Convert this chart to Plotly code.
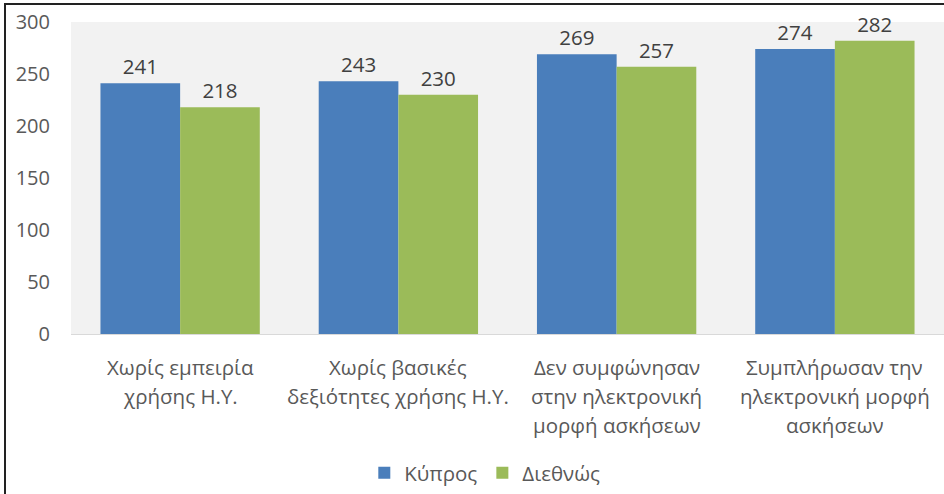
import plotly.graph_objects as go

categories = [
    "Χωρίς εμπειρία<br>χρήσης Η.Υ.",
    "Χωρίς βασικές<br>δεξιότητες χρήσης Η.Υ.",
    "Δεν συμφώνησαν<br>στην ηλεκτρονική<br>μορφή ασκήσεων",
    "Συμπλήρωσαν την<br>ηλεκτρονική μορφή<br>ασκήσεων",
]
cyprus = [241, 243, 269, 274]
international = [218, 230, 257, 282]
series_names = ["Κύπρος", "Διεθνώς"]
y_ticks = [0, 50, 100, 150, 200, 250, 300]

FONT = "Open Sans"
TXT = "#595959"

fig = go.Figure()
fig.add_trace(go.Bar(
    x=categories, y=cyprus, name=series_names[0],
    marker=dict(color="#4A7EBB", line=dict(width=0)),
    text=cyprus, textposition="outside", cliponaxis=False,
    textfont=dict(size=20.5, color="#404040", family=FONT),
))
fig.add_trace(go.Bar(
    x=categories, y=international, name=series_names[1],
    marker=dict(color="#9BBB59", line=dict(width=0)),
    text=international, textposition="outside", cliponaxis=False,
    textfont=dict(size=20.5, color="#404040", family=FONT),
))

fig.update_layout(
    width=944, height=494,
    margin=dict(l=71, r=0, t=22, b=160),
    barmode="group", bargap=0.27, bargroupgap=0,
    paper_bgcolor="white", plot_bgcolor="#f2f2f2",
    font=dict(family=FONT, color=TXT, size=19),
    showlegend=True,
    legend=dict(orientation="h", x=0.474, xanchor="center", y=-0.445, yanchor="middle",
                font=dict(size=20.5, color=TXT), itemwidth=30, traceorder="normal"),
)
fig.update_yaxes(range=[0, 300], tickvals=y_ticks, showgrid=False, zeroline=False,
                 showline=False, ticks="", tickfont=dict(size=20, color=TXT),
                 ticklabelstandoff=20)
fig.update_xaxes(showgrid=False, showline=True, linecolor="#d9d9d9", linewidth=1,
                 ticks="", showticklabels=False)

# category labels, one annotation per line for Office-like line spacing
plot_h = 312
for cat in categories:
    for i, line in enumerate(cat.split("<br>")):
        ypix = 367 + 29 * i
        fig.add_annotation(x=cat, xref="x", y=(334 - ypix) / plot_h, yref="paper",
                           text=line, showarrow=False, xanchor="center", yanchor="middle",
                           font=dict(size=20.5, color=TXT, family=FONT))

fig.add_shape(type="rect", xref="paper", yref="paper",
              x0=(5 - 71) / 873, x1=1.2, y0=-0.7, y1=(334 - 4) / 312,
              line=dict(color="#222222", width=2), fillcolor="rgba(0,0,0,0)", layer="above")

fig.write_html("out.html")
